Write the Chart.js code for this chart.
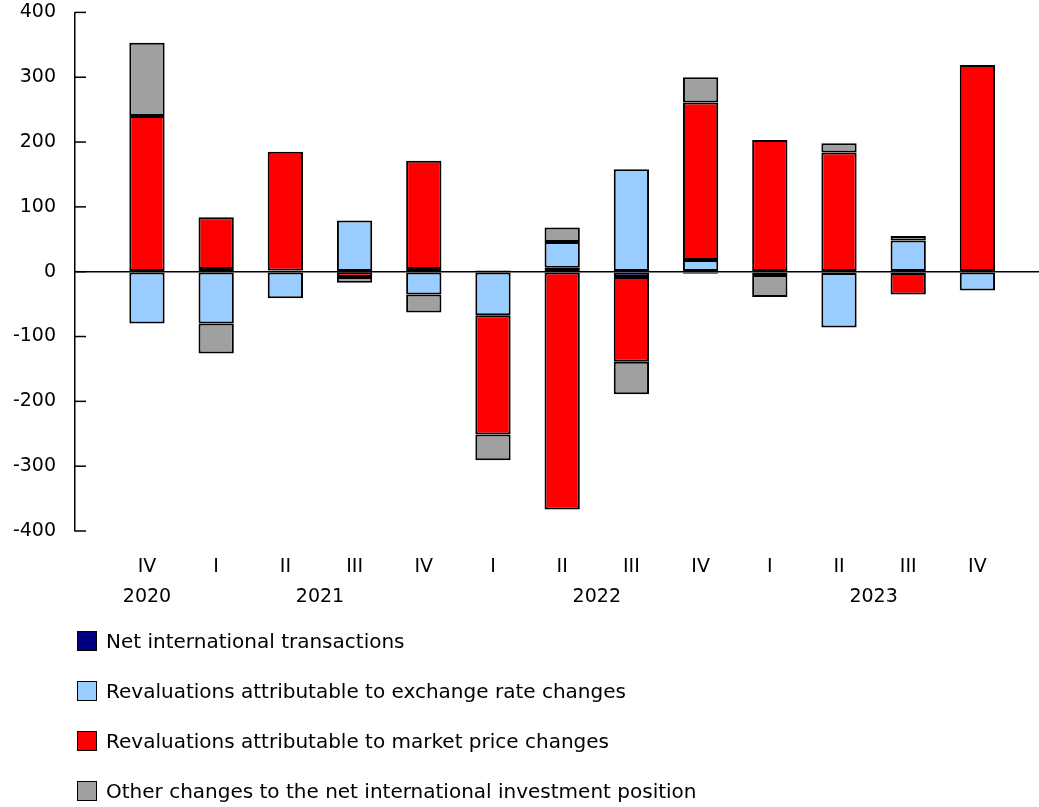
<!DOCTYPE html>
<html>
<head>
<meta charset="utf-8">
<script src="https://cdn.jsdelivr.net/npm/chart.js@4/dist/chart.umd.min.js"></script>
<style>
  body { margin: 0; background: #fff; }
  #wrap { position: relative; width: 1039px; height: 807px; overflow: hidden; }
  #niipChart { position: absolute; left: 0; top: -18px; }
  #legend { position: absolute; left: 77px; top: 629px; font: 20px "DejaVu Sans", Verdana, sans-serif; color: #000; }
  .item { display: flex; align-items: center; height: 24px; margin-bottom: 26px; }
  .box { width: 20px; height: 20px; border: 1.5px solid #000; margin-right: 9px; box-sizing: border-box; }
</style>
</head>
<body>
<div id="wrap">
  <canvas id="niipChart" width="1039" height="825"></canvas>
  <div id="legend"></div>
</div>
<script>
const quarters = ["IV", "I", "II", "III", "IV", "I", "II", "III", "IV", "I", "II", "III", "IV"];
const quarterYear = [2020, 2021, 2021, 2021, 2021, 2022, 2022, 2022, 2022, 2023, 2023, 2023, 2023];

const netTransactions = [0, 4, 2, -1, 4, 2, 6, -8, -3, -5, -2, -2, 0];
const exchangeRate = [-80, -80, -41, 79, -35, -67, 40, 158, 18, 0, -84, 48, -29];
const marketPrice = [240, 80, 183, -7, 167, -184, -367, -131, 243, 203, 184, -33, 319];
const otherChanges = [113, -46, 0, -9, -28, -40, 22, -50, 39, -34, 14, 7, 0];

const seriesLabels = [
    "Net international transactions",
    "Revaluations attributable to exchange rate changes",
    "Revaluations attributable to market price changes",
    "Other changes to the net international investment position"
];
const seriesColors = ["#000080", "#99ccff", "#ff0000", "#a0a0a0"];
const yTicks = [-400, -300, -200, -100, 0, 100, 200, 300, 400];

// year labels sit at the middle of their quarters
const years = [...new Set(quarterYear)];
const yearCenters = years.map(y => {
    const idx = quarterYear.map((q, i) => q === y ? i : null).filter(i => i !== null);
    return idx.reduce((a, b) => a + b, 0) / idx.length;
});

const FONT = { family: "'DejaVu Sans', Verdana, sans-serif", size: 19 };

const toPoints = arr => arr.map((v, i) => ({ x: i, y: v }));

const innerTicks = {
    id: "innerTicks",
    afterDraw(chart) {
        const { ctx, chartArea, scales } = chart;
        ctx.save();
        ctx.strokeStyle = "#000";
        ctx.lineWidth = 1.5;
        yTicks.forEach(v => {
            const y = scales.y.getPixelForValue(v);
            ctx.beginPath();
            ctx.moveTo(chartArea.left, y);
            ctx.lineTo(chartArea.left + 11, y);
            ctx.stroke();
        });
        ctx.restore();
    }
};

const datasets = [netTransactions, exchangeRate, marketPrice, otherChanges].map((arr, k) => ({
    label: seriesLabels[k],
    data: toPoints(arr),
    backgroundColor: seriesColors[k],
    borderColor: "#000",
    borderWidth: 2,
    borderSkipped: false,
    barPercentage: 0.51,
    categoryPercentage: 1.0
}));

const chart = new Chart(document.getElementById("niipChart"), {
    type: "bar",
    data: { datasets },
    options: {
        responsive: false,
        animation: false,
        layout: { padding: { top: 0, right: 0, bottom: 200, left: 0 } },
        plugins: { legend: { display: false }, tooltip: { enabled: false } },
        scales: {
            x: {
                type: "linear",
                stacked: true,
                offset: false,
                min: -1.04,
                max: 12.89,
                grid: { display: false, drawTicks: false },
                border: { display: false },
                afterFit: s => { s.height = 46; },
                afterBuildTicks: s => { s.ticks = quarters.map((q, i) => ({ value: i })); },
                ticks: {
                    autoSkip: false,
                    maxRotation: 0,
                    padding: 25,
                    color: "#000",
                    font: FONT,
                    callback: (v) => quarters[v]
                }
            },
            years: {
                type: "linear",
                position: "bottom",
                offset: false,
                min: -1.04,
                max: 12.89,
                grid: { display: false, drawTicks: false },
                border: { display: false },
                afterFit: s => { s.height = 30; },
                afterBuildTicks: s => { s.ticks = yearCenters.map(c => ({ value: c })); },
                ticks: {
                    autoSkip: false,
                    maxRotation: 0,
                    padding: 9,
                    color: "#000",
                    font: FONT,
                    callback: (v, i) => String(years[i])
                }
            },
            y: {
                stacked: true,
                min: -400,
                max: 400,
                afterFit: s => { s.width = 75; },
                afterBuildTicks: s => { s.ticks = yTicks.map(v => ({ value: v })); },
                border: { display: true, color: "#000", width: 1.5 },
                grid: {
                    drawTicks: false,
                    lineWidth: 1.5,
                    color: c => c.tick && c.tick.value === 0 ? "#000" : "rgba(0,0,0,0)"
                },
                ticks: { padding: 19, color: "#000", font: FONT }
            }
        }
    },
    plugins: [innerTicks]
});

// legend, one item per line
const legend = document.getElementById("legend");
chart.data.datasets.forEach(ds => {
    const item = document.createElement("div");
    item.className = "item";
    const box = document.createElement("span");
    box.className = "box";
    box.style.background = ds.backgroundColor;
    const txt = document.createElement("span");
    txt.textContent = ds.label;
    item.appendChild(box);
    item.appendChild(txt);
    legend.appendChild(item);
});
</script>
</body>
</html>
